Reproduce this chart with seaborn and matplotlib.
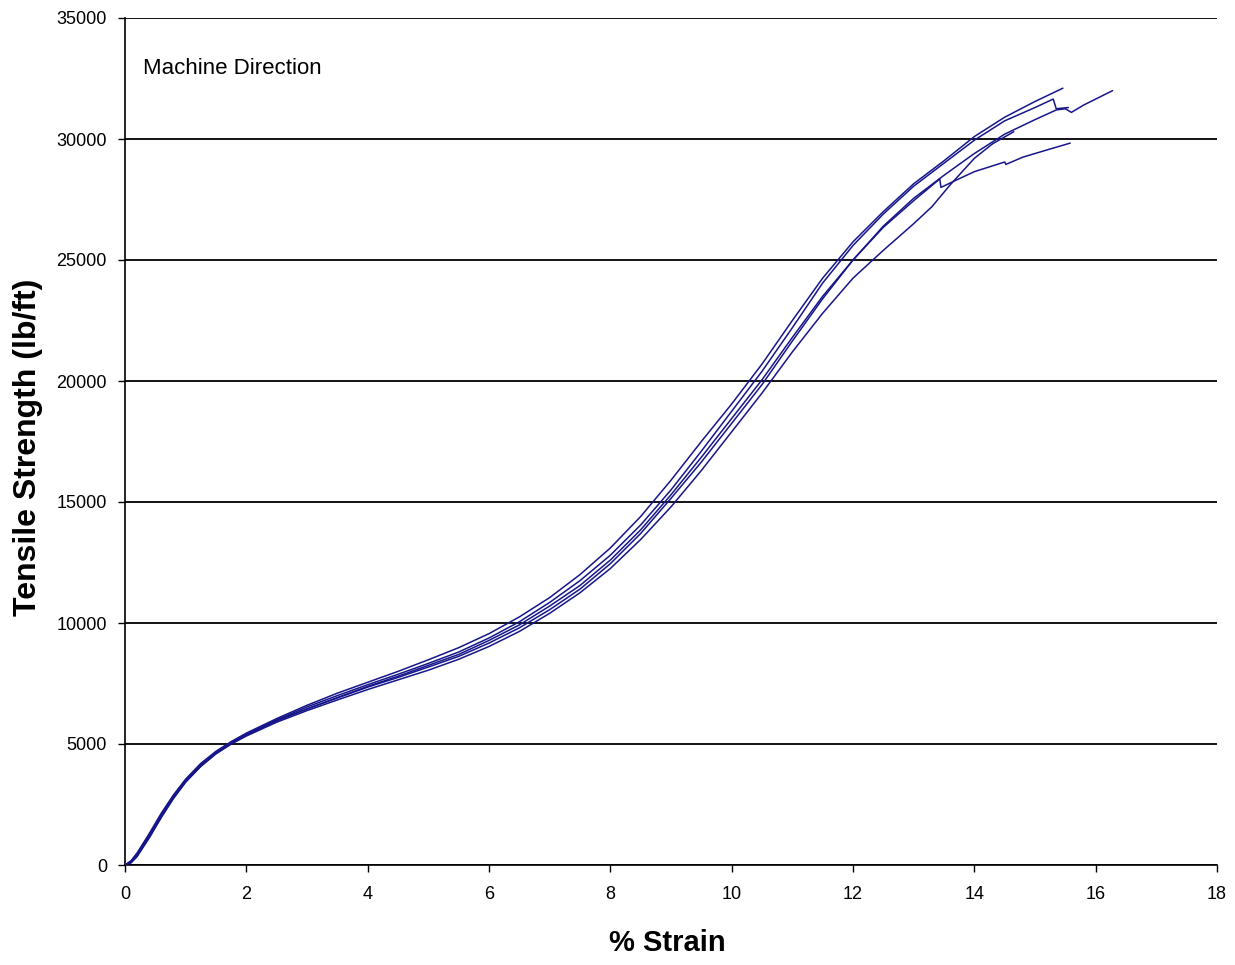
import numpy as np
import pandas as pd
import matplotlib
matplotlib.use("Agg")
import matplotlib.pyplot as plt
import seaborn as sns

# ---- data (strain %, tensile strength lb/ft) ----
strain_a = [0, 0.1, 0.2, 0.4, 0.6, 0.8, 1.0, 1.25, 1.5, 1.75, 2.0, 2.5, 3.0, 3.5, 4.0, 4.5, 5.0, 5.5, 6.0, 6.5,
            7.0, 7.5, 8.0, 8.5, 9.0, 9.5, 10.0, 10.5, 11.0, 11.5, 12.0, 12.5, 13.0, 13.5, 14.0, 14.5, 15.0, 15.46]
load_a = [0, 180, 500, 1300, 2150, 2900, 3550, 4200, 4700, 5100, 5450, 6050, 6600, 7100, 7550, 8000, 8480, 8980, 9560, 10250,
          11050, 12000, 13100, 14400, 15900, 17500, 19050, 20700, 22500, 24250, 25750, 27000, 28150, 29100, 30100, 30900, 31550, 32100]

strain_b = [0, 0.1, 0.2, 0.4, 0.6, 0.8, 1.0, 1.25, 1.5, 1.75, 2.0, 2.5, 3.0, 3.5, 4.0, 4.5, 5.0, 5.5, 6.0, 6.5,
            7.0, 7.5, 8.0, 8.5, 9.0, 9.5, 10.0, 10.5, 11.0, 11.5, 12.0, 12.5, 13.0, 13.5, 14.0, 14.5, 15.0, 15.35,
            15.5, 15.6, 15.8, 16.0, 16.28]
load_b = [0, 100, 380, 1150, 2000, 2780, 3450, 4100, 4620, 5030, 5380, 5980, 6450, 6900, 7350, 7750, 8180, 8620, 9170, 9800,
          10550, 11400, 12450, 13700, 15150, 16650, 18250, 19850, 21650, 23400, 25000, 26400, 27550, 28500, 29400, 30200, 30800, 31200,
          31250, 31100, 31400, 31650, 32000]

strain_c = [0, 0.1, 0.2, 0.4, 0.6, 0.8, 1.0, 1.25, 1.5, 1.75, 2.0, 2.5, 3.0, 3.5, 4.0, 4.5, 5.0, 5.5, 6.0, 6.5,
            7.0, 7.5, 8.0, 8.5, 9.0, 9.5, 10.0, 10.5, 11.0, 11.5, 12.0, 12.5, 13.0, 13.5, 14.0, 14.5, 15.0, 15.3,
            15.35, 15.55]
load_c = [0, 120, 420, 1200, 2080, 2850, 3500, 4150, 4650, 5050, 5400, 6000, 6530, 7000, 7450, 7880, 8330, 8800, 9380, 10050,
          10850, 11750, 12800, 14050, 15500, 17100, 18750, 20400, 22200, 24050, 25600, 26900, 28050, 29000, 29950, 30750, 31300, 31650,
          31250, 31300]

strain_d = [0, 0.1, 0.2, 0.4, 0.6, 0.8, 1.0, 1.25, 1.5, 1.75, 2.0, 2.5, 3.0, 3.5, 4.0, 4.5, 5.0, 5.5, 6.0, 6.5,
            7.0, 7.5, 8.0, 8.5, 9.0, 9.5, 10.0, 10.5, 11.0, 11.5, 12.0, 12.5, 13.0, 13.43, 13.45, 13.7, 14.0, 14.5,
            14.52, 14.8, 15.2, 15.58]
load_d = [0, 140, 460, 1230, 2050, 2800, 3450, 4080, 4600, 5000, 5350, 5950, 6450, 6920, 7380, 7800, 8250, 8700, 9280, 9920,
          10700, 11550, 12600, 13850, 15300, 16850, 18450, 20050, 21800, 23500, 25000, 26350, 27450, 28350, 28000, 28300, 28650, 29050,
          28950, 29250, 29550, 29830]

strain_e = [0, 0.1, 0.2, 0.4, 0.6, 0.8, 1.0, 1.25, 1.5, 1.75, 2.0, 2.5, 3.0, 3.5, 4.0, 4.5, 5.0, 5.5, 6.0, 6.5,
            7.0, 7.5, 8.0, 8.5, 9.0, 9.5, 10.0, 10.5, 11.0, 11.5, 12.0, 12.5, 13.0, 13.3, 13.6, 14.0, 14.3, 14.65]
load_e = [0, 90, 350, 1120, 1970, 2750, 3420, 4080, 4600, 5000, 5330, 5900, 6380, 6820, 7250, 7650, 8050, 8500, 9030, 9650,
          10400, 11250, 12250, 13450, 14800, 16300, 17900, 19500, 21200, 22800, 24250, 25400, 26500, 27200, 28100, 29200, 29800, 30300]

x_ticks = [0, 2, 4, 6, 8, 10, 12, 14, 16, 18]
y_ticks = [0, 5000, 10000, 15000, 20000, 25000, 30000, 35000]

specimens = {"A": (strain_a, load_a), "B": (strain_b, load_b), "C": (strain_c, load_c),
             "D": (strain_d, load_d), "E": (strain_e, load_e)}
frames = []
for name, (xs, ys) in specimens.items():
    frames.append(pd.DataFrame({"strain": xs, "load": ys, "specimen": name}))
df = pd.concat(frames, ignore_index=True)

sns.set_theme(style="white")
plt.rcParams["font.family"] = ["Liberation Sans", "DejaVu Sans"]
plt.rcParams["text.color"] = "black"
plt.rcParams["axes.labelcolor"] = "black"

fig = plt.figure(figsize=(12.35, 9.65), dpi=100)
ax = fig.add_axes([125 / 1235, 100 / 965, 1092 / 1235, 847 / 965])

navy = "#16168a"
sns.lineplot(data=df, x="strain", y="load", hue="specimen", units="specimen",
             estimator=None, sort=False, palette=[navy] * 5, legend=False,
             linewidth=1.1, ax=ax, zorder=3)

ax.set_xlim(0, 18)
ax.set_ylim(0, 35000)
ax.set_xticks(x_ticks)
ax.set_yticks(y_ticks)
ax.set_xticklabels([str(v) for v in x_ticks])
ax.set_yticklabels([str(v) for v in y_ticks])

ax.yaxis.grid(True, color="black", linewidth=1.3)
ax.xaxis.grid(False)
ax.set_axisbelow(True)

for side in ["top", "right"]:
    ax.spines[side].set_visible(False)
for side in ["left", "bottom"]:
    ax.spines[side].set_color("black")
    ax.spines[side].set_linewidth(1.2)

ax.tick_params(axis="both", which="major", direction="out", length=5, width=1.0,
               colors="black", labelsize=13, bottom=True, left=True)
ax.tick_params(axis="y", pad=8)
ax.tick_params(axis="x", pad=10)

ax.set_xlabel("% Strain", fontsize=21, fontweight="bold")
ax.xaxis.set_label_coords((667 - 125) / 1092, (865 - 943) / 847)
ax.set_ylabel("Tensile Strength (lb/ft)", fontsize=23, fontweight="bold")
ax.yaxis.set_label_coords((28 - 125) / 1092, (865 - 447) / 847)
ax.xaxis.label.set_va("center")
ax.yaxis.label.set_va("center")

ax.text((143 - 125) / 1092, (865 - 68) / 847, "Machine Direction", transform=ax.transAxes,
        fontsize=16, va="center", ha="left", color="black")

fig.savefig("out.png", dpi=100)
